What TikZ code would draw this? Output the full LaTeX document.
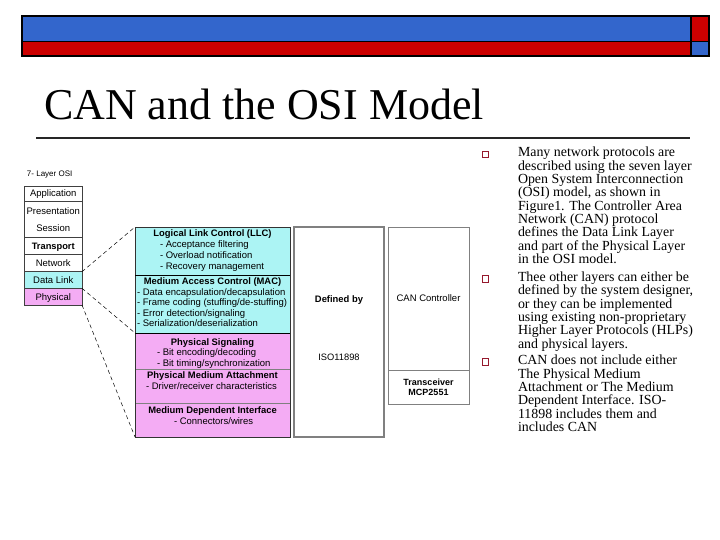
\documentclass[tikz,border=0pt]{standalone}
\usepackage{fontspec}
\setmainfont{Liberation Serif}
\newfontfamily\diafont{Liberation Sans}
\definecolor{hblue}{RGB}{51,102,204}
\definecolor{hred}{RGB}{204,0,0}
\definecolor{llccyan}{RGB}{172,244,244}
\definecolor{phypink}{RGB}{244,172,244}
\definecolor{bulred}{RGB}{150,25,45}
\definecolor{boxgray}{RGB}{128,128,128}
\begin{document}
\begin{tikzpicture}[x=1pt,y=-1pt,
  every node/.style={inner sep=0pt, outer sep=0pt},
  hdrline/.style={draw=black, line width=1.4pt},
  osibox/.style={rectangle, draw=black!75, line width=0.6pt, anchor=north west,
    minimum width=57.5pt, font=\diafont\fontsize{9.5}{11}\selectfont,
    text height=6.8pt, text depth=0pt},
  osilabel/.style={anchor=base, font=\diafont\fontsize{9.5}{11}\selectfont},
  secbox/.style={rectangle, draw=black!80, line width=0.6pt, anchor=north west,
    minimum width=155pt},
  hd/.style={anchor=base, font=\diafont\bfseries\fontsize{9.4}{11}\selectfont},
  item/.style={anchor=base west, font=\diafont\fontsize{9.5}{11}\selectfont},
  graybox/.style={rectangle, draw=boxgray, anchor=north west},
  conn/.style={draw=black, line width=0.5pt, dash pattern=on 4pt off 3pt},
  para/.style={anchor=north west, align=left, font=\fontsize{13.9}{13.3}\selectfont},
  bul/.style={rectangle, draw=bulred, line width=1.1pt, minimum size=6.5pt}
]
\useasboundingbox (0,0) rectangle (720,540);

% header bars
\fill[hblue] (22,16) rectangle (691,41.5);
\fill[hred] (691,16) rectangle (709,41.5);
\fill[hred] (22,41.5) rectangle (691,56);
\fill[hblue] (691,41.5) rectangle (709,56);
\draw[hdrline] (22,16) rectangle (709,56);
\draw[hdrline] (22,41.5) -- (709,41.5);
\draw[hdrline] (691,16) -- (691,56);

% title
\node[anchor=base west, font=\fontsize{44}{50}\selectfont] (title) at (44,120) {CAN and the OSI Model};
\draw[line width=2pt, black!85] (36,138) -- (690,138);

% 7-layer OSI
\node[anchor=base west, font=\diafont\fontsize{8}{10}\selectfont] (osititle) at (27,177) {7- Layer OSI};
\node[osibox, minimum height=15pt, fill=white] (app) at (24.5,186) {Application};
\node[osibox, minimum height=36pt, fill=white] (pres) at (24.5,201) {};
\node[osilabel] (preslbl) at (53.25,214.5) {Presentation};
\node[osilabel] (seslbl) at (53.25,232) {Session};
\node[osibox, minimum height=17.5pt, fill=white, font=\diafont\bfseries\fontsize{9.3}{11}\selectfont] (trans) at (24.5,237) {Transport};
\node[osibox, minimum height=17.2pt, fill=white] (net) at (24.5,254.5) {Network};
\node[osibox, minimum height=16.6pt, fill=llccyan] (dl) at (24.5,271.7) {Data Link};
\node[osibox, minimum height=16.7pt, fill=phypink] (phys) at (24.5,288.3) {Physical};

% middle stack
\node[secbox, minimum height=48pt, fill=llccyan] (llc) at (135,227) {};
\node[secbox, minimum height=58pt, fill=llccyan] (mac) at (135,275) {};
\node[secbox, minimum height=36pt, fill=phypink] (psig) at (135,333) {};
\node[secbox, minimum height=34pt, fill=phypink, draw=boxgray] (pma) at (135,369) {};
\node[secbox, minimum height=34pt, fill=phypink, draw=boxgray] (mdi) at (135,403) {};
\draw[black!80, line width=0.8pt] (llc.north west) rectangle (mdi.south east);
\draw[black, line width=0.6pt] (mac.north west) -- (mac.north east);
\draw[black, line width=0.6pt] (psig.north west) -- (psig.north east);

\node[hd] (llct) at (212.5,236.5) {Logical Link Control (LLC)};
\node[item] (llc1) at (160,247.5) {- Acceptance filtering};
\node[item] (llc2) at (160,258.5) {- Overload notification};
\node[item] (llc3) at (160,269.5) {- Recovery management};

\node[hd] (mact) at (212.5,284.5) {Medium Access Control (MAC)};
\node[item] (mac1) at (137,295) {- Data encapsulation/decapsulation};
\node[item] (mac2) at (137,305.5) {- Frame coding (stuffing/de-stuffing)};
\node[item] (mac3) at (137,316) {- Error detection/signaling};
\node[item] (mac4) at (137,326.5) {- Serialization/deserialization};

\node[hd] (pst) at (212.5,345) {Physical Signaling};
\node[item] (ps1) at (157,355.5) {- Bit encoding/decoding};
\node[item] (ps2) at (157,366) {- Bit timing/synchronization};

\node[hd] (pmat) at (212.5,378.5) {Physical Medium Attachment};
\node[item] (pma1) at (146,389) {- Driver/receiver characteristics};

\node[hd] (mdit) at (212.5,413.5) {Medium Dependent Interface};
\node[item] (mdi1) at (174,424.5) {- Connectors/wires};

% connectors
\draw[conn] (net.south east) -- (llc.north west);
\draw[conn] (dl.south east) -- (mac.south west);
\draw[conn] (phys.south east) -- (mdi.south west);

% right boxes
\node[graybox, line width=1.6pt, minimum width=90pt, minimum height=210pt] (def) at (294,227) {};
\node[hd] (deft) at (339,302.5) {Defined by};
\node[osilabel, font=\diafont\fontsize{9.3}{11}\selectfont] (iso) at (339,360.5) {ISO11898};
\node[graybox, line width=0.8pt, minimum width=81pt, minimum height=143pt,
  font=\diafont\fontsize{9.5}{11}\selectfont, text height=6.8pt, text depth=0pt] (canc) at (388,227) {CAN Controller};
\node[graybox, line width=0.8pt, minimum width=81pt, minimum height=34pt, align=center,
  font=\diafont\bfseries\fontsize{9}{10}\selectfont] (trx) at (388,370) {Transceiver\\MCP2551};

% bullets
\node[bul] (b1) at (485.5,154.5) {};
\node[bul] (b2) at (485.5,279) {};
\node[bul] (b3) at (485.5,362) {};

\node[para] (p1) at (518,146) {\rule{0pt}{11pt}Many network protocols are\\
described using the seven layer\\
Open System Interconnection\\
(OSI) model, as shown in\\
Figure1. The Controller Area\\
Network (CAN) protocol\\
defines the Data Link Layer\\
and part of the Physical Layer\\
in the OSI model.};
\node[para] (p2) at (518,270.5) {\rule{0pt}{11pt}Thee other layers can either be\\
defined by the system designer,\\
or they can be implemented\\
using existing non-proprietary\\
Higher Layer Protocols (HLPs)\\
and physical layers.};
\node[para] (p3) at (518,353.8) {\rule{0pt}{11pt}CAN does not include either\\
The Physical Medium\\
Attachment or The Medium\\
Dependent Interface. ISO-\\
11898 includes them and\\
includes CAN};
\end{tikzpicture}
\end{document}
